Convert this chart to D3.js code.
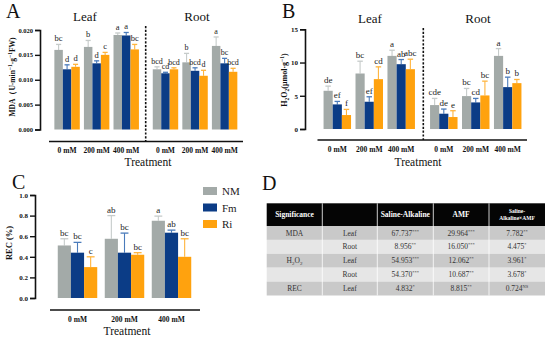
<!DOCTYPE html>
<html>
<head>
<meta charset="utf-8">
<script src="https://cdn.jsdelivr.net/npm/d3@7/dist/d3.min.js"></script>
<style>
  html, body { margin: 0; padding: 0; background: #fff; }
  svg { display: block; }
  .tick-lab { font-weight: bold; fill: #111; }
  .let { fill: #222; }
</style>
</head>
<body>
<div id="fig"></div>
<script>
// ---- data ----
const SERIES = ["NM", "Fm", "Ri"];
const COLORS = ["#a3aaa8", "#0b3c86", "#ffa20e"];
const ERR_COLORS = ["#c6cbca", "#4a7bbb", "#ffb43c"];
const DOSES = ["0 mM", "200 mM", "400 mM"];

// A: MDA (leaf, root) — rows per dose, cols NM/Fm/Ri
const MDA_LEAF = [[0.0160, 0.0121, 0.0126], [0.0166, 0.0133, 0.0150], [0.0190, 0.0189, 0.0161]];
const MDA_LEAF_ERR = [[0.0011, 0.0009, 0.0005], [0.0013, 0.0005, 0.0005], [0.0004, 0.0006, 0.0010]];
const MDA_LEAF_LET = [["bc", "d", "d"], ["b", "d", "c"], ["a", "a", "bc"]];
const MDA_ROOT = [[0.0121, 0.0113, 0.0121], [0.0135, 0.0118, 0.0108], [0.0168, 0.0133, 0.0116]];
const MDA_ROOT_ERR = [[0.0005, 0.0002, 0.0003], [0.0018, 0.0006, 0.0011], [0.0018, 0.0010, 0.0007]];
const MDA_ROOT_LET = [["bcd", "cd", "bcd"], ["b", "bcd", "d"], ["a", "bc", "bcd"]];

// B: H2O2
const H2O2_LEAF = [[5.75, 3.7, 2.1], [8.35, 4.1, 7.5], [11.0, 9.75, 9.0]];
const H2O2_LEAF_ERR = [[0.7, 0.45, 0.85], [1.85, 0.75, 1.85], [0.85, 0.7, 1.5]];
const H2O2_LEAF_LET = [["de", "ef", "f"], ["bc", "ef", "cd"], ["a", "ab", "abc"]];
const H2O2_ROOT = [[3.6, 2.3, 1.8], [4.95, 4.0, 5.05], [11.0, 6.3, 6.9]];
const H2O2_ROOT_ERR = [[1.0, 0.7, 0.95], [1.15, 0.6, 2.15], [1.1, 1.5, 0.55]];
const H2O2_ROOT_LET = [["cde", "de", "e"], ["bc", "cd", "bc"], ["a", "b", "b"]];

// C: REC
const REC = [[0.51, 0.44, 0.30], [0.575, 0.44, 0.42], [0.75, 0.634, 0.40]];
const REC_ERR = [[0.065, 0.10, 0.10], [0.225, 0.19, 0.02], [0.045, 0.025, 0.175]];
const REC_LET = [["bc", "bc", "c"], ["ab", "bc", "bc"], ["a", "ab", "bc"]];

const TICKS_A = [0, 0.005, 0.010, 0.015, 0.020];
const TICKS_B = [0, 5, 10, 15];
const TICKS_C = [0, 0.2, 0.4, 0.6, 0.8, 1.0];

// D: two-way ANOVA table
const TABLE_HEAD = ["Significance", "", "Saline-Alkaline", "AMF", "Saline-Alkaline×AMF"];
const TABLE_TRAIT = ["MDA", "", "H2O2", "", "REC"];
const TABLE_ORGAN = ["Leaf", "Root", "Leaf", "Root", "Leaf"];
const TABLE_SA = [["67.737", "***"], ["8.956", "**"], ["54.953", "***"], ["54.370", "***"], ["4.832", "*"]];
const TABLE_AMF = [["29.964", "***"], ["16.050", "***"], ["12.062", "**"], ["10.687", "**"], ["8.815", "**"]];
const TABLE_INT = [["7.782", "**"], ["4.475", "*"], ["3.961", "*"], ["3.678", "*"], ["0.724", "NS"]];

const SERIF = "'Liberation Serif', 'Times New Roman', 'DejaVu Serif', serif";

// ---- svg ----
const svg = d3.select("#fig").append("svg").attr("width", 550).attr("height", 339);
svg.append("rect").attr("width", 550).attr("height", 339).attr("fill", "#fff");

function yAxis(g, y, x0, ticks, fmt, fs) {
  const ax = g.append("g").attr("transform", `translate(${x0},0)`)
    .call(d3.axisLeft(y).tickValues(ticks).tickFormat(fmt).tickSize(5).tickPadding(2));
  ax.select(".domain").attr("stroke", "#111").attr("stroke-width", 1.6);
  ax.selectAll(".tick line").attr("stroke", "#111").attr("stroke-width", 1.4);
  ax.selectAll("text").attr("class", "tick-lab").style("font-size", fs + "px");
}

// draw one block of grouped bars
function bars(g, vals, errs, lets, x0, y, lfs) {
  const xs = d3.scaleBand().domain(d3.range(3)).range([0, x0.bandwidth()]).padding(0);
  DOSES.forEach((dose, i) => {
    const gg = g.append("g").attr("transform", `translate(${x0(dose)},0)`);
    const d = vals[i].map((v, k) => ({ v, e: errs[i][k], l: lets[i][k], k }));
    const cx = (k) => xs(k) + xs.bandwidth() / 2;
    gg.selectAll("line.err").data(d).join("line").attr("class", "err")
      .attr("x1", (p) => cx(p.k)).attr("x2", (p) => cx(p.k))
      .attr("y1", (p) => y(p.v)).attr("y2", (p) => y(p.v + p.e))
      .attr("stroke", (p) => ERR_COLORS[p.k]).attr("stroke-width", 1.1);
    gg.selectAll("line.cap").data(d).join("line").attr("class", "cap")
      .attr("x1", (p) => cx(p.k) - xs.bandwidth() * 0.3).attr("x2", (p) => cx(p.k) + xs.bandwidth() * 0.3)
      .attr("y1", (p) => y(p.v + p.e)).attr("y2", (p) => y(p.v + p.e))
      .attr("stroke", (p) => ERR_COLORS[p.k]).attr("stroke-width", 1.3);
    gg.selectAll("rect").data(d).join("rect")
      .attr("x", (p) => xs(p.k)).attr("width", xs.bandwidth())
      .attr("y", (p) => y(p.v)).attr("height", (p) => y(0) - y(p.v))
      .attr("fill", (p) => COLORS[p.k]);
    gg.selectAll("text.let").data(d).join("text").attr("class", "let")
      .attr("x", (p) => cx(p.k)).attr("y", (p) => y(p.v + p.e) - 3)
      .attr("text-anchor", "middle").style("font-size", (lfs || 9) + "px").text((p) => p.l);
  });
}

function xLabels(g, x0, yy) {
  DOSES.forEach((dose) => {
    g.append("text").attr("class", "tick-lab").attr("x", x0(dose) + x0.bandwidth() / 2).attr("y", yy)
      .attr("text-anchor", "middle").style("font-size", "7.5px").text(dose);
  });
}

function plain(g, x, y, t, fs, anchor) {
  return g.append("text").attr("x", x).attr("y", y).attr("text-anchor", anchor || "middle")
    .style("font-size", fs + "px").attr("fill", "#111").text(t);
}

// ---------- Panel A ----------
{
  const g = svg.append("g");
  const y = d3.scaleLinear().domain([0, 0.02]).range([129.5, 30]);
  const xL = d3.scaleBand().domain(DOSES).range([52, 141.3]).paddingInner(0.14).paddingOuter(0.08);
  const xR = d3.scaleBand().domain(DOSES).range([150.4, 239.7]).paddingInner(0.14).paddingOuter(0.08);
  bars(g, MDA_LEAF, MDA_LEAF_ERR, MDA_LEAF_LET, xL, y, 8.5);
  bars(g, MDA_ROOT, MDA_ROOT_ERR, MDA_ROOT_LET, xR, y, 8);
  yAxis(g, y, 40, TICKS_A, d3.format(".3f"), 6.5);
  g.append("line").attr("x1", 49).attr("x2", 243).attr("y1", 141.5).attr("y2", 141.5)
    .attr("stroke", "#111").attr("stroke-width", 1.4);
  g.append("line").attr("x1", 145.7).attr("x2", 145.7).attr("y1", 26).attr("y2", 141)
    .attr("stroke", "#111").attr("stroke-width", 1.6).attr("stroke-dasharray", "2.2,1.6");
  xLabels(g, xL, 152.5); xLabels(g, xR, 152.5);
  plain(g, 148, 166, "Treatment", 11.5);
  plain(g, 85, 20.5, "Leaf", 13);
  plain(g, 197, 20.5, "Root", 13);
  plain(g, 6, 18, "A", 20, "start");
  const t = g.append("text").attr("transform", "translate(14.5,77) rotate(-90)").attr("text-anchor", "middle")
    .style("font-size", "7.5px").style("font-weight", "bold").attr("fill", "#111");
  t.append("tspan").text("MDA（U·min");
  t.append("tspan").attr("dy", -3).style("font-size", "5.5px").text("−1");
  t.append("tspan").attr("dy", 3).text("·g");
  t.append("tspan").attr("dy", -3).style("font-size", "5.5px").text("−1");
  t.append("tspan").attr("dy", 3).text("FW)");
}

// ---------- Panel B ----------
{
  const g = svg.append("g");
  const y = d3.scaleLinear().domain([0, 15]).range([129, 29.3]);
  const xL = d3.scaleBand().domain(DOSES).range([321, 417.5]).paddingInner(0.14).paddingOuter(0.08);
  const xR = d3.scaleBand().domain(DOSES).range([427.5, 524]).paddingInner(0.14).paddingOuter(0.08);
  bars(g, H2O2_LEAF, H2O2_LEAF_ERR, H2O2_LEAF_LET, xL, y);
  bars(g, H2O2_ROOT, H2O2_ROOT_ERR, H2O2_ROOT_LET, xR, y);
  yAxis(g, y, 305, TICKS_B, d3.format("d"), 7);
  g.append("line").attr("x1", 317.5).attr("x2", 527).attr("y1", 140).attr("y2", 140)
    .attr("stroke", "#111").attr("stroke-width", 1.4);
  g.append("line").attr("x1", 423.3).attr("x2", 423.3).attr("y1", 28).attr("y2", 140)
    .attr("stroke", "#111").attr("stroke-width", 1.6).attr("stroke-dasharray", "2.2,1.6");
  xLabels(g, xL, 152); xLabels(g, xR, 152);
  plain(g, 418, 166, "Treatment", 11.5);
  plain(g, 370, 23, "Leaf", 13);
  plain(g, 478, 23, "Root", 13);
  plain(g, 282, 18, "B", 20, "start");
  const t = g.append("text").attr("transform", "translate(287,80) rotate(-90)").attr("text-anchor", "middle")
    .style("font-size", "8px").style("font-weight", "bold").attr("fill", "#111");
  t.append("tspan").text("H");
  t.append("tspan").attr("dy", 2).style("font-size", "5.5px").text("2");
  t.append("tspan").attr("dy", -2).text("O");
  t.append("tspan").attr("dy", 2).style("font-size", "5.5px").text("2");
  t.append("tspan").attr("dy", -2).text("(μmol·g");
  t.append("tspan").attr("dy", -3).style("font-size", "5.5px").text("−1");
  t.append("tspan").attr("dy", 3).text(")");
}

// ---------- Panel C ----------
{
  const g = svg.append("g");
  const y = d3.scaleLinear().domain([0, 1]).range([298, 195]);
  const x0 = d3.scaleBand().domain(DOSES).range([54, 195]).paddingInner(0.16).paddingOuter(0.08);
  bars(g, REC, REC_ERR, REC_LET, x0, y);
  yAxis(g, y, 35, TICKS_C, d3.format(".1f"), 7);
  g.append("line").attr("x1", 50).attr("x2", 200).attr("y1", 310).attr("y2", 310)
    .attr("stroke", "#111").attr("stroke-width", 1.4);
  xLabels(g, x0, 321.5);
  plain(g, 127, 335, "Treatment", 11.5);
  plain(g, 12, 189, "C", 20, "start");
  g.append("text").attr("transform", "translate(12,243) rotate(-90)").attr("text-anchor", "middle")
    .style("font-size", "8.5px").style("font-weight", "bold").attr("fill", "#111").text("REC (%)");
  // legend
  const lg = g.append("g").selectAll("g").data(SERIES).join("g")
    .attr("transform", (d, i) => `translate(203,${187 + i * 16.5})`);
  lg.append("rect").attr("width", 14).attr("height", 8).attr("fill", (d, i) => COLORS[i]);
  lg.append("text").attr("x", 19).attr("y", 8).style("font-size", "11px").attr("fill", "#222").text((d) => d);
}

// ---------- Panel D ----------
{
  const g = svg.append("g");
  plain(g, 262, 190, "D", 20, "start");
  const colX = [266.7, 322.3, 377.3, 433.3, 489, 545];
  const headY = 203.3, headH = 22.7, rowH = 13.9;
  const rows = d3.range(TABLE_ORGAN.length);
  g.append("rect").attr("x", colX[0]).attr("y", headY).attr("width", colX[5] - colX[0]).attr("height", headH).attr("fill", "#050505");
  g.selectAll("rect.row").data(rows).join("rect").attr("class", "row")
    .attr("x", colX[0]).attr("width", colX[5] - colX[0])
    .attr("y", (i) => headY + headH + i * rowH).attr("height", rowH)
    .attr("fill", (i) => (i % 2 ? "#e6e6e6" : "#c9c9c9"));
  // column separators
  g.selectAll("line.sep").data(colX.slice(1, 5)).join("line").attr("class", "sep")
    .attr("x1", (d) => d).attr("x2", (d) => d).attr("y1", headY).attr("y2", headY + headH + rows.length * rowH)
    .attr("stroke", "#fff").attr("stroke-width", 0.8);
  const cx = (c) => (colX[c] + colX[c + 1]) / 2;
  TABLE_HEAD.forEach((h, c) => {
    if (c === 4) {
      const parts = h.split("×");
      const t = g.append("text").attr("text-anchor", "middle").attr("fill", "#fff")
        .style("font-size", "5.5px").style("font-weight", "bold");
      t.append("tspan").attr("x", cx(c)).attr("y", headY + 9.5).text(parts[0].replace("Alkaline", ""));
      t.append("tspan").attr("x", cx(c)).attr("y", headY + 17).text("Alkaline×" + parts[1]);
    } else if (h) {
      g.append("text").attr("x", cx(c)).attr("y", headY + 14).attr("text-anchor", "middle")
        .attr("fill", "#fff").style("font-size", "7.5px").style("font-weight", "bold").text(h);
    }
  });
  rows.forEach((i) => {
    const yy = headY + headH + i * rowH + 9.5;
    const txt = (c) => g.append("text").attr("x", cx(c)).attr("y", yy).attr("text-anchor", "middle")
      .attr("fill", "#333").style("font-size", "7.5px");
    const tr = TABLE_TRAIT[i];
    if (tr === "H2O2") {
      const t = txt(0);
      t.append("tspan").text("H");
      t.append("tspan").attr("dy", 1.8).style("font-size", "5px").text("2");
      t.append("tspan").attr("dy", -1.8).text("O");
      t.append("tspan").attr("dy", 1.8).style("font-size", "5px").text("2");
    } else if (tr) txt(0).text(tr);
    txt(1).text(TABLE_ORGAN[i]);
    [TABLE_SA, TABLE_AMF, TABLE_INT].forEach((col, j) => {
      const t = txt(j + 2);
      t.append("tspan").text(col[i][0]);
      t.append("tspan").attr("dy", -3).style("font-size", "4.5px").text(col[i][1]);
    });
  });
}

// serif everywhere
svg.selectAll("text").style("font-family", SERIF);
</script>
</body>
</html>
